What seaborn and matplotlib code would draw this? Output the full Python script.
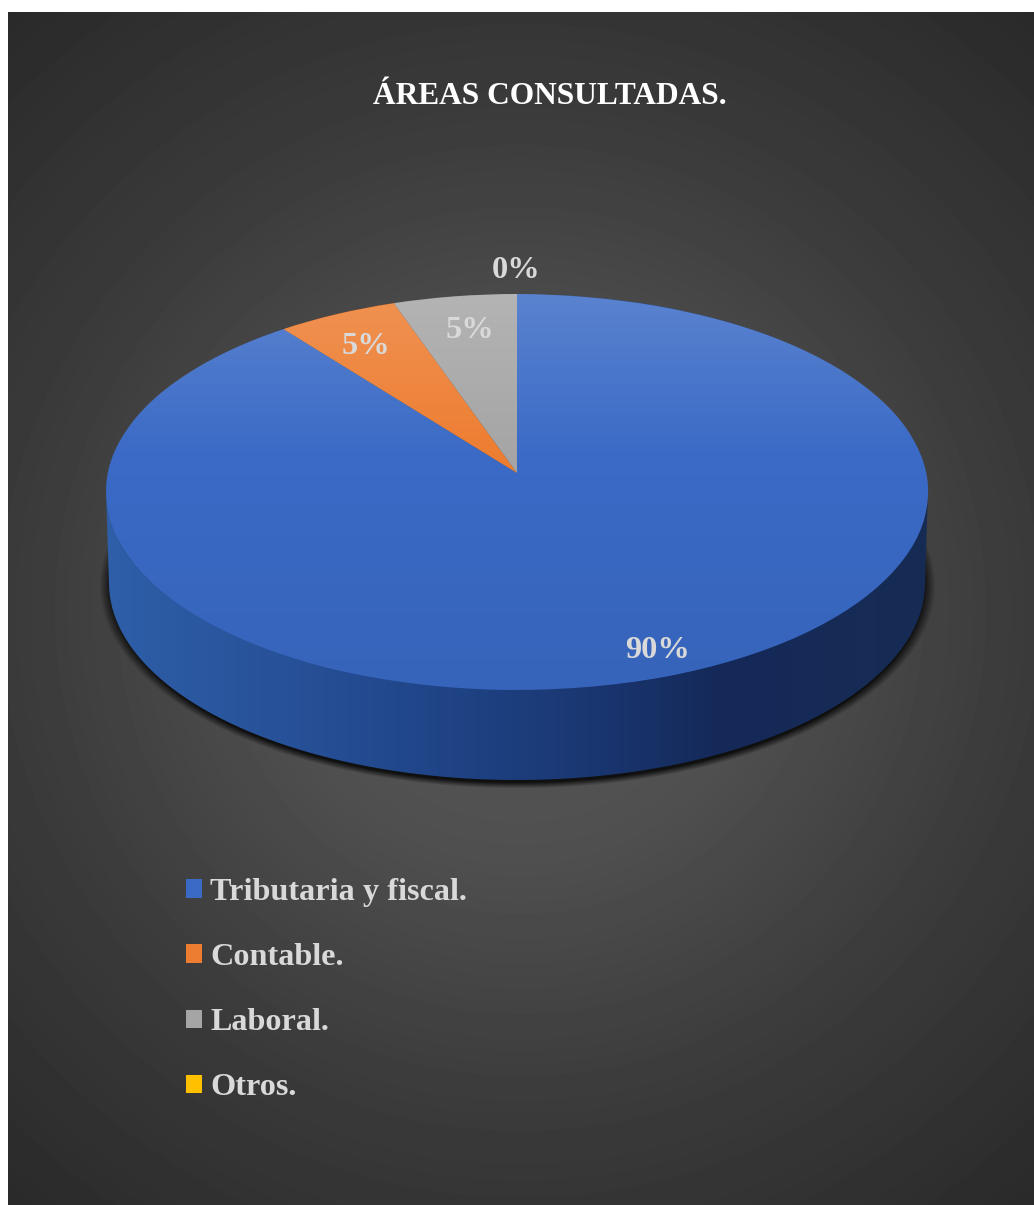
import numpy as np
import matplotlib
matplotlib.use("Agg")
import matplotlib.pyplot as plt
import seaborn as sns
from matplotlib.colors import LinearSegmentedColormap
from matplotlib.patches import PathPatch
from matplotlib.path import Path
from matplotlib.transforms import Transform

# datos del grafico
areas = ["Tributaria y fiscal.", "Contable.", "Laboral.", "Otros."]
porcentajes = [90, 5, 5, 0]
colores = ["#3A6AC6", "#ED7D31", "#A5A5A5", "#FFC000"]
titulo = "ÁREAS CONSULTADAS."


class Perspectiva(Transform):
    """Pasa el circulo unitario de la torta a la elipse en perspectiva (en pixeles)."""
    input_dims = 2
    output_dims = 2
    cx, cy = 517.0, 473.0
    ax_x, ax_y, k = 409.0, 196.2, 0.096
    giro = 0.035  # el angulo se abre un poco cerca del fondo

    def transform_non_affine(self, values):
        values = np.asarray(values, dtype=float)
        r = np.hypot(values[:, 0], values[:, 1])
        phi = np.arctan2(values[:, 0], values[:, 1])
        phi = phi + self.giro * np.sin(2 * phi)
        x, y = r * np.sin(phi), r * np.cos(phi)
        w = 1 + self.k * y
        return np.column_stack([self.cx + self.ax_x * x / w,
                                self.cy - self.ax_y * y / w])


sns.set_theme(style="white")
plt.rcParams["font.family"] = ["Liberation Serif", "DejaVu Serif"]
paleta = sns.color_palette(colores)

fig = plt.figure(figsize=(10.34, 12.05), dpi=100, facecolor="white")
ax = fig.add_axes([0, 0, 1, 1])

wedges, _, autotexts = ax.pie(
    porcentajes, colors=paleta, startangle=90, counterclock=False,
    autopct=lambda p: f"{p:.0f}%",
    textprops=dict(color="#D9D9D9", fontsize=23.3, fontweight="bold"),
)
persp = Perspectiva() + ax.transData
for w in wedges:
    w.set_transform(persp)
    w.set_linewidth(0)

# posicion de las etiquetas, en pixeles
pos_etiquetas = [(657, 651), (366, 347), (470, 330), (516, 271)]
for t, p in zip(autotexts, pos_etiquetas):
    t.set_position(p)

# fondo radial
yy, xx = np.mgrid[12:1205, 8:1034]
dist = np.hypot(xx - 520, yy - 610)
gris = np.interp(dist, [0, 250, 500, 800], [0x5A, 0x4F, 0x3B, 0x29]) / 255
ax.imshow(gris, cmap="gray", vmin=0, vmax=1, extent=(8, 1034, 1205, 12),
          aspect="auto", zorder=-3)

# sombra bajo la torta
yy, xx = np.mgrid[540:800, 90:950]
d = np.hypot((xx - 517) / 418, (yy - 585) / 203)
sombra = np.zeros(d.shape + (4,))
sombra[..., 3] = np.clip((1 - d) / 0.03, 0, 1) * 0.8
ax.imshow(sombra, extent=(90, 950, 800, 540), aspect="auto", zorder=-2)

# pared lateral
t = np.linspace(0, np.pi, 200)
arriba = np.column_stack([517 + 411 * np.cos(t), 492 + 197 * np.sin(t)])
abajo = np.column_stack([517 + 408 * np.cos(t[::-1]), 583 + 197 * np.sin(t[::-1])])
pared = PathPatch(Path(np.vstack([arriba, abajo])), transform=ax.transData,
                  facecolor="none", edgecolor="none")
ax.add_patch(pared)
cmap_pared = LinearSegmentedColormap.from_list("pared", [
    (0.0, "#2E5FA8"), (0.25, "#264F96"), (0.45, "#1E4182"),
    (0.6, "#1A3670"), (0.75, "#142958"), (1.0, "#172C54")])
img = ax.imshow(np.linspace(0, 1, 820)[None, :], cmap=cmap_pared,
                extent=(106, 928, 790, 480), aspect="auto", zorder=-1)
img.set_clip_path(pared)

# brillo de la cara superior
yy = np.linspace(0, 1, 400)
brillo = np.zeros((400, 1, 4))
brillo[..., 0:3] = np.where(yy < 0.42, 1.0, 0.0)[:, None, None]
brillo[..., 3] = np.interp(yy, [0, 0.42, 1], [0.17, 0.0, 0.06])[:, None]
luz = ax.imshow(brillo, extent=(100, 935, 695, 290), aspect="auto", zorder=2)
luz.set_clip_path(Path.unit_circle(), persp)

ax.text(550, 97, titulo, color="white", fontsize=22.6, fontweight="bold",
        ha="center", va="center")

ax.legend(wedges, areas, loc="upper left", bbox_to_anchor=(186, 878),
          bbox_transform=ax.transData, frameon=False, labelcolor="#D9D9D9",
          prop=dict(size=23.2, weight="bold"), borderpad=0, borderaxespad=0,
          handlelength=0.5, handleheight=0.5, handletextpad=0.26, labelspacing=1.12)

ax.set_aspect("auto")
ax.set_xlim(0, 1034)
ax.set_ylim(1205, 0)
ax.set_position([0, 0, 1, 1])
ax.set_facecolor("white")
ax.set_frame_on(False)

fig.savefig("out.png", dpi=100, facecolor="white")
